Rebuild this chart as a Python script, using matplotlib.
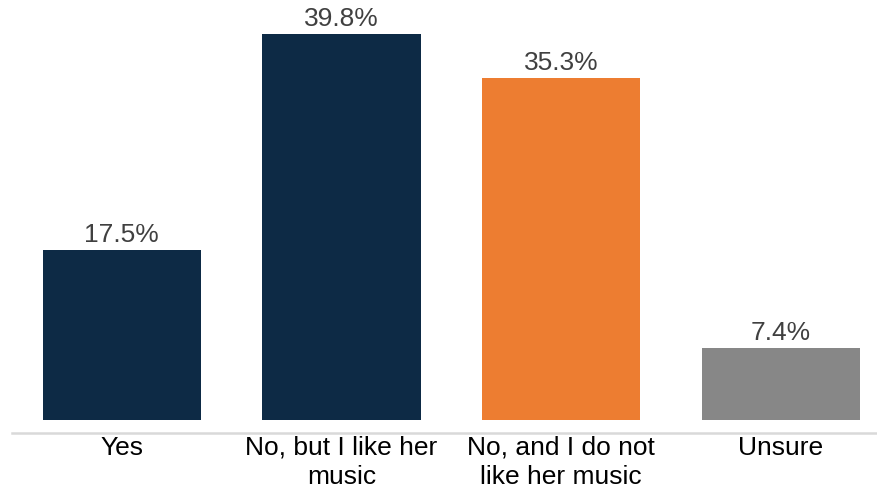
import matplotlib.pyplot as plt

categories = ["Yes", "No, but I like her\nmusic", "No, and I do not\nlike her music", "Unsure"]
values = [17.5, 39.8, 35.3, 7.4]
colors = ["#0D2A45", "#0D2A45", "#ED7D31", "#878787"]

plt.rcParams['font.family'] = ['Liberation Sans', 'DejaVu Sans']

fig = plt.figure(figsize=(8.77, 4.92), dpi=100)
ax = fig.add_axes([12 / 877, 59 / 492, 865 / 877, 433 / 492])

x = range(len(categories))
bars = ax.bar(x, values, width=0.72, color=colors)

for b, v in zip(bars, values):
    ax.annotate(f"{v}%", (b.get_x() + b.get_width() / 2, v), xytext=(0, 2),
                textcoords="offset points", ha="center", va="bottom",
                fontsize=19, color="#404040")

ax.set_xlim(-0.5, -0.5 + 865 / 219.7)
ax.set_ylim(-1.34, 43.3)
ax.set_xticks(list(x))
ax.set_xticklabels(categories, fontsize=19, color="black", linespacing=1.25)
ax.tick_params(axis="x", length=0, pad=2)
ax.set_yticks([])
for s in ["top", "right", "left"]:
    ax.spines[s].set_visible(False)
ax.spines["bottom"].set_color("#D9D9D9")
ax.spines["bottom"].set_linewidth(1.8)

fig.savefig("out.png", dpi=100)
